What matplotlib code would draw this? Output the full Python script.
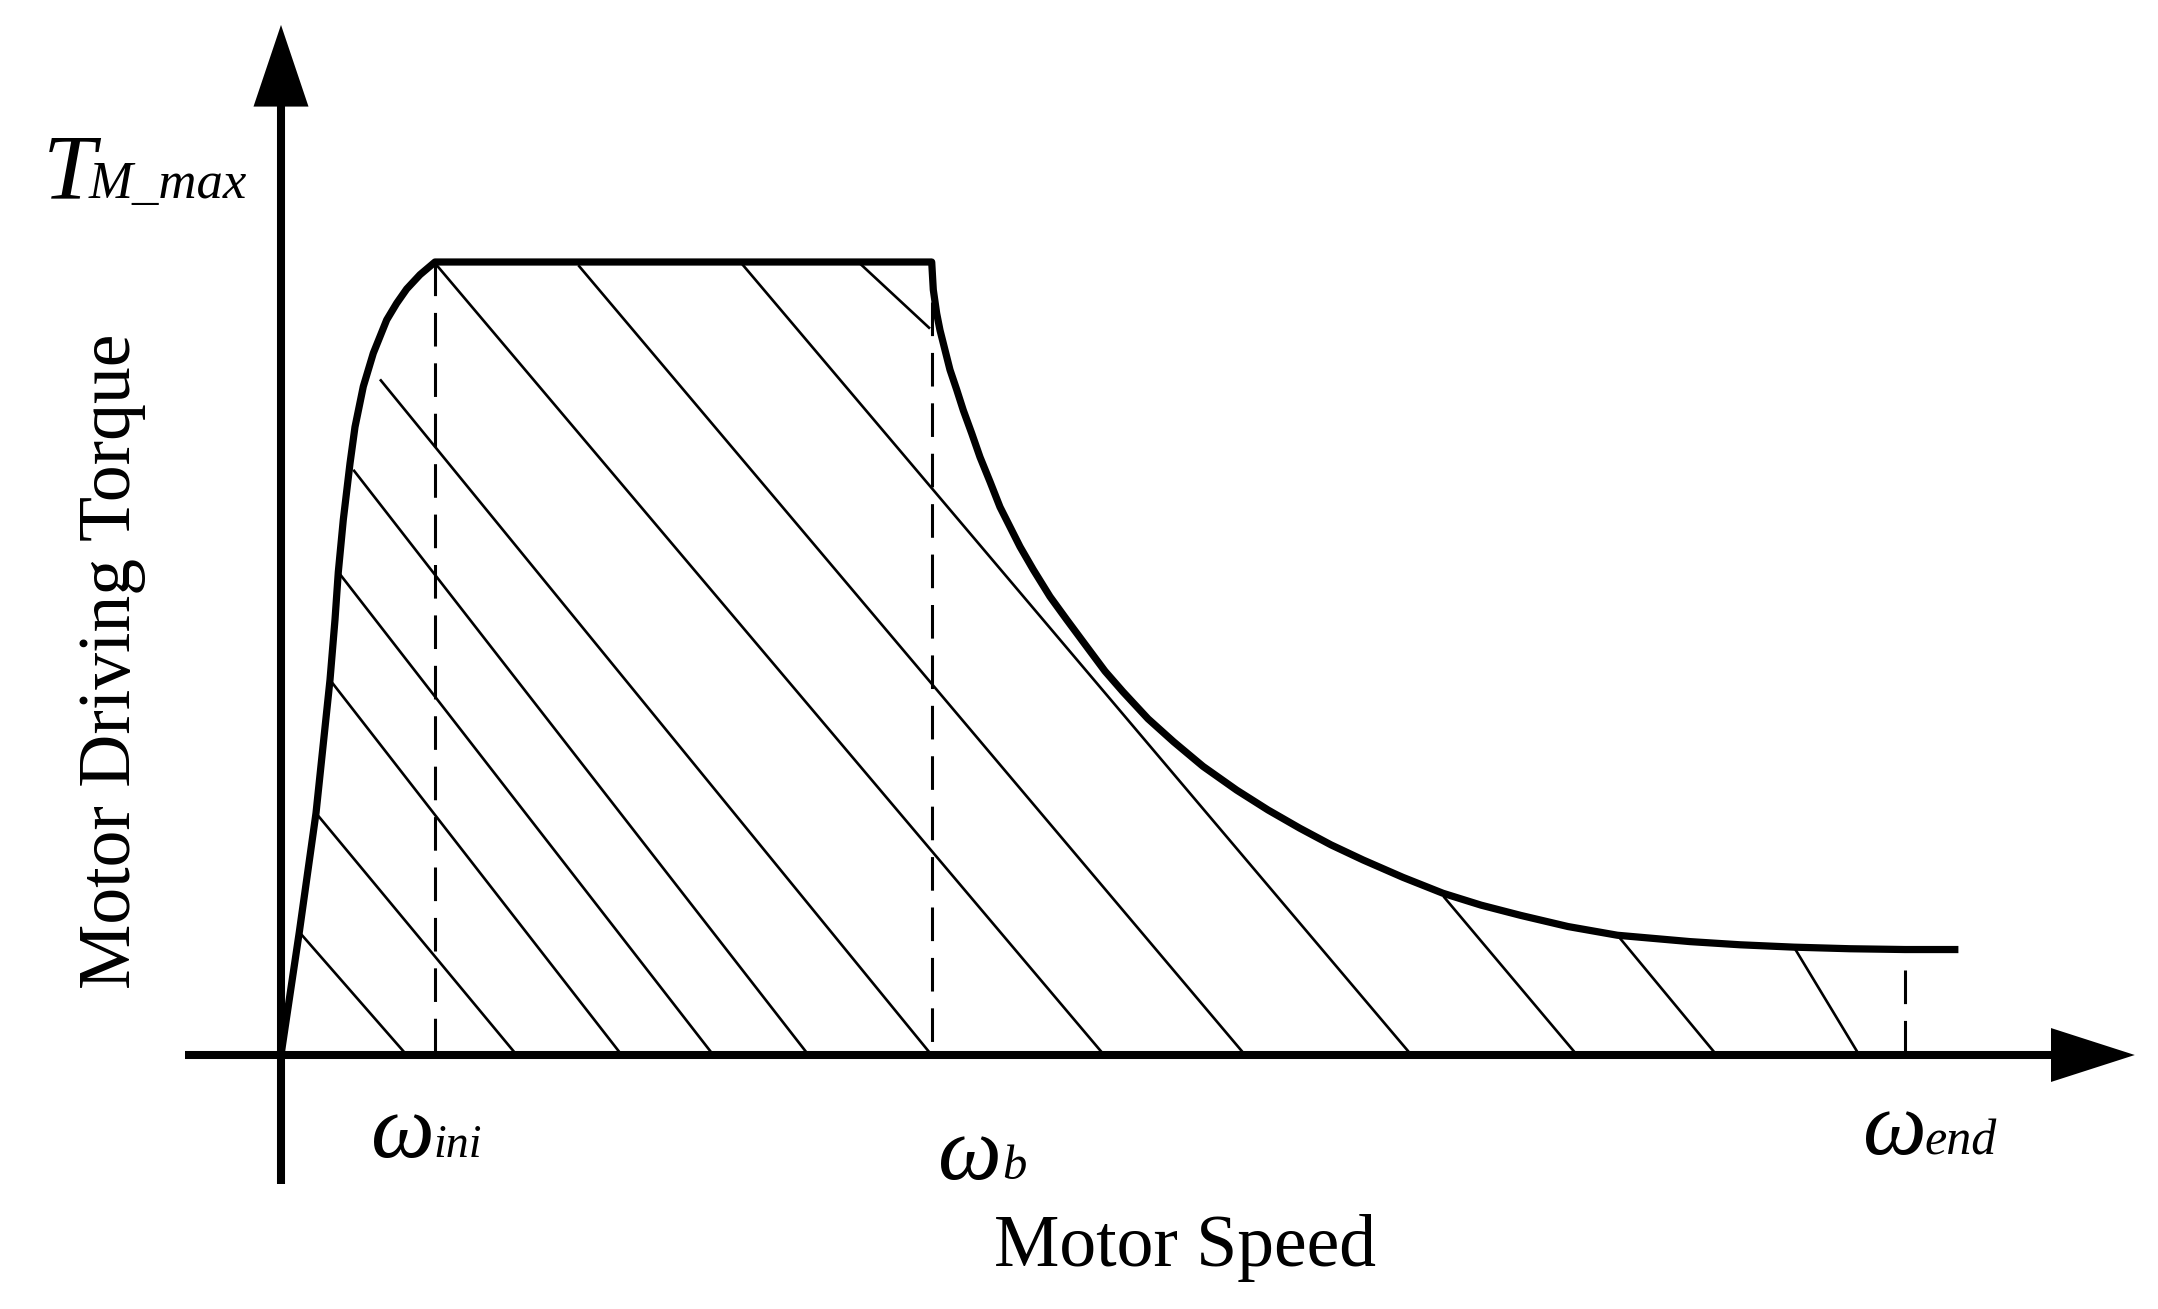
import matplotlib
matplotlib.use("Agg")
import matplotlib.pyplot as plt

# ---------------- data (speed in arbitrary units, torque normalised to T_max = 1) -------------
omega_ini = 1.54
omega_b = 6.507
omega_end = 16.24
T_max = 1.0

rise_speed = [0.0, 0.183, 0.35, 0.49, 0.54, 0.573, 0.623, 0.69, 0.74, 0.823, 0.923,
              1.057, 1.157, 1.257, 1.39, 1.54]
rise_torque = [0.0, 0.155, 0.305, 0.473, 0.549, 0.609, 0.675, 0.746, 0.792, 0.843,
               0.885, 0.927, 0.948, 0.966, 0.984, 1.0]

decay_speed = [6.507, 6.523, 6.557, 6.59, 6.64, 6.69, 6.757, 6.823, 6.907, 6.99, 7.09, 7.19,
               7.29, 7.39, 7.523, 7.69, 7.857, 8.057, 8.24, 8.42, 8.67, 8.926, 9.22, 9.557,
               9.87, 10.188, 10.5, 10.82, 11.22, 11.619, 12.0, 12.399, 12.87, 13.365, 14.09,
               14.59, 15.13, 15.69, 16.24, 16.774]
decay_torque = [1.0, 0.965, 0.935, 0.914, 0.889, 0.864, 0.839, 0.813, 0.784, 0.754, 0.723,
                0.691, 0.666, 0.641, 0.612, 0.578, 0.549, 0.515, 0.484, 0.458, 0.424, 0.395,
                0.364, 0.334, 0.309, 0.286, 0.265, 0.246, 0.224, 0.204, 0.189, 0.176, 0.162,
                0.151, 0.143, 0.139, 0.136, 0.134, 0.133, 0.133]

# hatch lines: top point (speed, torque) -> bottom point (speed, torque)
hatch_top_speed = [0.183, 0.35, 0.49, 0.573, 0.723, 0.99, 1.557, 2.973, 4.607, 5.79,
                   11.625, 13.365, 15.13]
hatch_top_torque = [0.155, 0.305, 0.473, 0.609, 0.738, 0.852, 0.996, 0.996, 0.998, 0.998,
                    0.2, 0.151, 0.136]
hatch_bot_speed = [1.257, 2.357, 3.407, 4.323, 5.275, 6.506, 8.231, 9.641, 11.304, 6.49,
                   12.96, 14.356, 15.782]
hatch_bot_torque = [0, 0, 0, 0, 0, 0, 0, 0, 0, 0.916, 0, 0, 0]

guide_speed = [omega_ini, omega_b, omega_end]
guide_top = [1.0, 0.95, 0.107]

x_axis_range = [-0.96, 17.72]
y_axis_range = [-0.163, 1.2]

# ---------------- figure --------------------------------------------------------------------
W, H, DPI = 2158, 1309, 100
fig = plt.figure(figsize=(W / DPI, H / DPI), dpi=DPI)
ax = fig.add_axes([0, 0, 1, 1])
ax.set_xlim(-2.81, 18.77)
ax.set_ylim(-0.3203, 1.3304)
ax.axis("off")

serif = "Liberation Serif"

# axes with arrows
ax.plot(x_axis_range, [0, 0], color="black", lw=5.8, solid_capstyle="butt", zorder=3)
ax.plot([0, 0], y_axis_range, color="black", lw=5.8, solid_capstyle="butt", zorder=3)
ax.fill([17.70, 17.70, 18.538], [-0.034, 0.034, 0.0], color="black", lw=0, zorder=4)
ax.fill([-0.275, 0.275, 0.0], [1.196, 1.196, 1.299], color="black", lw=0, zorder=4)

# hatch lines
for xs, ys, xe, ye in zip(hatch_top_speed, hatch_top_torque, hatch_bot_speed, hatch_bot_torque):
    ax.plot([xs, xe], [ys, ye], color="black", lw=1.9, solid_capstyle="butt", zorder=2)

# dashed guides
for s, top in zip(guide_speed, guide_top):
    ax.plot([s, s], [top, 0], color="black", lw=2.2, linestyle=(0, (11, 5.5)), zorder=2)

# torque envelope
curve_speed = rise_speed + decay_speed
curve_torque = rise_torque + decay_torque
ax.plot(curve_speed, curve_torque, color="black", lw=5.2, solid_joinstyle="round",
        solid_capstyle="butt", zorder=3)

# ---------------- text ----------------------------------------------------------------------
ax.text(-2.38, 1.0807, "T", fontsize=68, family=serif, style="italic", ha="left", va="baseline")
ax.text(-1.92, 1.0807, "M_max", fontsize=38, family=serif, style="italic", ha="left",
        va="baseline")

ax.text(0.897, -0.129, "ω", fontsize=65, family=serif, style="italic", ha="left", va="baseline")
ax.text(1.52, -0.1286, "ini", fontsize=33, family=serif, style="italic", ha="left", va="baseline")

ax.text(6.573, -0.1564, "ω", fontsize=65, family=serif, style="italic", ha="left", va="baseline")
ax.text(7.207, -0.1564, "b", fontsize=35, family=serif, style="italic", ha="left", va="baseline")

ax.text(15.82, -0.1253, "ω", fontsize=65, family=serif, style="italic", ha="left", va="baseline")
ax.text(16.435, -0.1253, "end", fontsize=36, family=serif, style="italic", ha="left",
        va="baseline")

ax.text(9.037, -0.2657, "Motor Speed", fontsize=53, family=serif, ha="center", va="baseline")
ax.text(-1.51, 0.4968, "Motor Driving Torque", fontsize=53, family=serif, rotation=90,
        rotation_mode="anchor", ha="center", va="baseline")

fig.savefig("out.png", dpi=DPI, facecolor="white")
